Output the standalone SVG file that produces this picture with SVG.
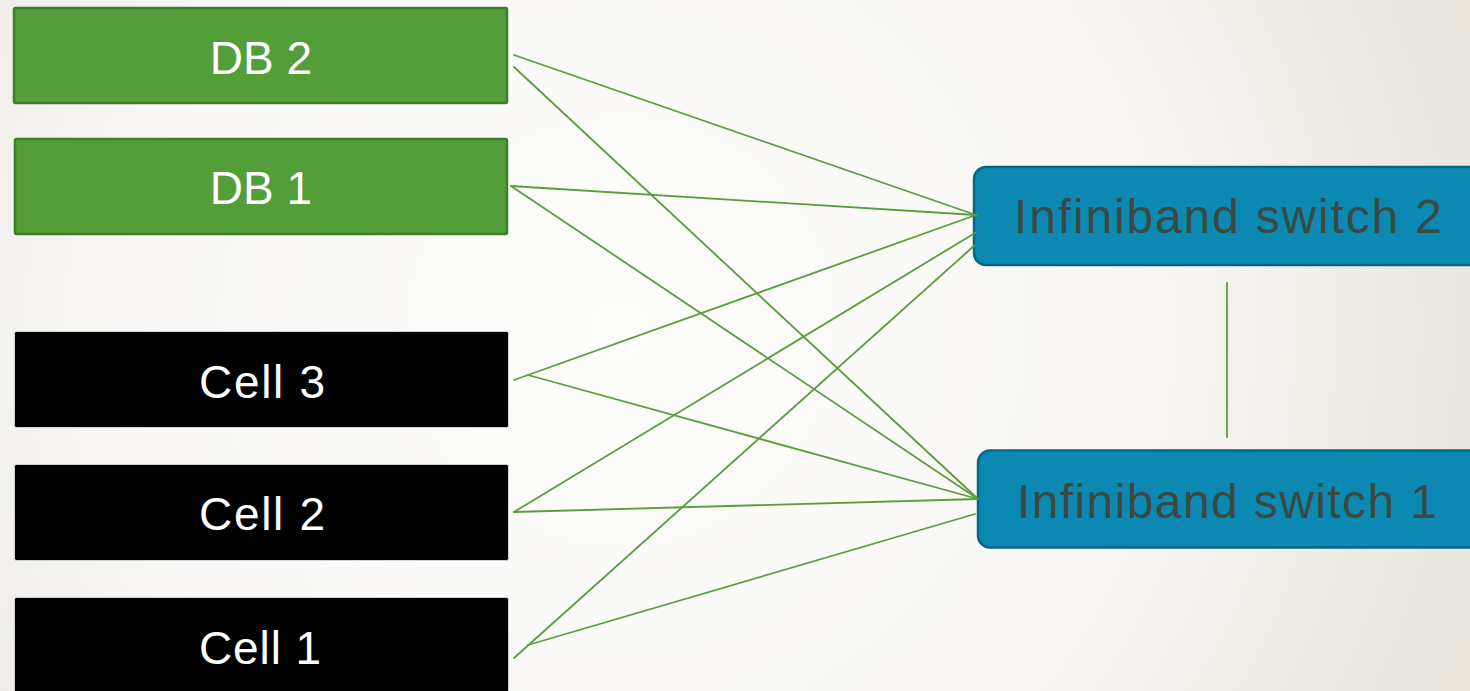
<svg xmlns="http://www.w3.org/2000/svg" width="1470" height="691" viewBox="0 0 1470 691">
  <defs>
    <radialGradient id="bg" cx="620" cy="330" r="900" gradientUnits="userSpaceOnUse">
      <stop offset="0" stop-color="#fdfdfc"/>
      <stop offset="0.55" stop-color="#f9f8f6"/>
      <stop offset="1" stop-color="#e9e5dd"/>
    </radialGradient>
    <style>
      .db { fill: #549e39; stroke: #3e7d2a; stroke-width: 2.5; }
      .cell { fill: #000000; stroke: #cfcfcf; stroke-width: 1; }
      .sw { fill: #0b89b3; stroke: #0a6584; stroke-width: 2.5; }
      .lbl { font-family: "Liberation Sans", Arial, sans-serif; font-size: 46px; text-anchor: middle; }
      .light { fill: #ffffff; }
      .dark { fill: #3a4a40; font-size: 48px; }
      .link { stroke: #5a9e3c; stroke-width: 1.8; fill: none; stroke-linecap: round; }
    </style>
  </defs>

  <rect x="0" y="0" width="1470" height="691" fill="url(#bg)"/>

  <!-- database nodes -->
  <g id="db2">
    <rect class="db" x="14" y="8" width="493" height="95" rx="1.5"/>
    <text class="lbl light" x="261" y="74">DB 2</text>
  </g>
  <g id="db1">
    <rect class="db" x="15" y="139" width="492" height="95" rx="1.5"/>
    <text class="lbl light" x="261" y="204">DB 1</text>
  </g>

  <!-- compute cells -->
  <g id="cell3">
    <rect class="cell" x="14.5" y="331.5" width="494" height="96" rx="2"/>
    <text class="lbl light" x="262" y="398" textLength="126" lengthAdjust="spacing">Cell 3</text>
  </g>
  <g id="cell2">
    <rect class="cell" x="14.5" y="464.5" width="494" height="96" rx="2"/>
    <text class="lbl light" x="262" y="530" textLength="126" lengthAdjust="spacing">Cell 2</text>
  </g>
  <g id="cell1">
    <rect class="cell" x="14.5" y="597.5" width="494" height="110" rx="2"/>
    <text class="lbl light" x="260" y="664" textLength="122" lengthAdjust="spacing">Cell 1</text>
  </g>

  <!-- switches -->
  <g id="switch2">
    <rect class="sw" x="974" y="167" width="510" height="98" rx="12"/>
    <text class="lbl dark" x="1228" y="233" textLength="428" lengthAdjust="spacing">Infiniband switch 2</text>
  </g>
  <g id="switch1">
    <rect class="sw" x="978" y="450.5" width="506" height="97" rx="12"/>
    <text class="lbl dark" x="1227" y="518" textLength="420" lengthAdjust="spacing">Infiniband switch 1</text>
  </g>

  <!-- cabling -->
  <g id="connectors">
    <line class="link" x1="514" y1="55" x2="976" y2="215"/>
    <line class="link" x1="514" y1="67" x2="978" y2="499"/>
    <line class="link" x1="511" y1="186" x2="976" y2="215"/>
    <line class="link" x1="511" y1="186" x2="978" y2="499"/>
    <line class="link" x1="514" y1="380" x2="976" y2="215"/>
    <line class="link" x1="528" y1="375" x2="978" y2="499"/>
    <line class="link" x1="514" y1="512" x2="975" y2="233"/>
    <line class="link" x1="514" y1="512" x2="978" y2="499"/>
    <line class="link" x1="514" y1="658" x2="975" y2="245"/>
    <line class="link" x1="528" y1="645" x2="975" y2="514"/>
    <line class="link" x1="1227" y1="283" x2="1227" y2="437"/>
  </g>
</svg>
